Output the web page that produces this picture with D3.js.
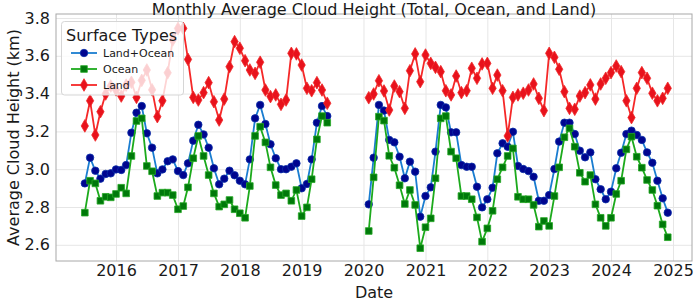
<!DOCTYPE html>
<html lang="en">
<head>
<meta charset="UTF-8">
<title>Monthly Average Cloud Height</title>
<script src="https://cdn.jsdelivr.net/npm/d3@7"></script>
<style>
  body { margin: 0; background: #fff; }
  text { font-family: "DejaVu Sans", sans-serif; fill: #1a1a1a; }
</style>
</head>
<body>
<script>
// two observation periods, monthly; nothing between Jul 2019 and Jan 2020
const period1Start = new Date(2015, 6, 1);   // Jul 2015 .. Jun 2019
const period2Start = new Date(2020, 1, 1);   // Feb 2020 .. Dec 2024

const landOcean1 = [2.925, 3.061, 2.992, 2.950, 2.975, 2.978, 2.999, 2.996, 3.022, 3.193, 3.299, 3.334,
  3.190, 3.114, 2.978, 2.999, 3.042, 3.052, 2.990, 2.969, 3.031, 3.151, 3.235, 3.184,
  3.114, 3.005, 2.920, 2.950, 2.992, 2.968, 2.939, 2.920, 3.052, 3.269, 3.340, 3.239,
  3.132, 3.058, 3.000, 3.000, 3.013, 3.031, 2.899, 2.922, 3.052, 3.246, 3.334, 3.281];
const ocean1 = [2.770, 2.939, 2.925, 2.833, 2.854, 2.851, 2.869, 2.902, 2.872, 3.070, 3.255, 3.269,
  3.017, 2.989, 2.858, 2.876, 2.876, 2.863, 2.788, 2.805, 2.904, 3.058, 3.176, 3.070,
  2.969, 2.872, 2.802, 2.814, 2.837, 2.788, 2.767, 2.743, 2.911, 3.176, 3.225, 3.142,
  3.010, 2.916, 2.863, 2.872, 2.833, 2.890, 2.752, 2.798, 2.947, 3.158, 3.281, 3.246];
const land1 = [3.229, 3.362, 3.181, 3.304, 3.398, 3.440, 3.420, 3.387, 3.445, 3.460, 3.380, 3.470,
  3.525, 3.420, 3.278, 3.362, 3.510, 3.684, 3.745, 3.745, 3.581, 3.380, 3.366, 3.405,
  3.458, 3.357, 3.260, 3.371, 3.542, 3.675, 3.640, 3.574, 3.525, 3.507, 3.566, 3.419,
  3.384, 3.393, 3.343, 3.366, 3.613, 3.610, 3.551, 3.428, 3.415, 3.458, 3.419, 3.349];

const landOcean2 = [2.814, 3.061, 3.340, 3.310, 3.155, 3.142, 3.066, 2.952, 3.040, 2.987,
  2.749, 2.858, 2.904, 3.093, 3.340, 3.327, 3.195, 3.195, 3.022, 3.013,
  3.013, 2.907, 2.798, 2.841, 2.902, 3.084, 3.137, 3.119, 3.198, 3.017,
  3.001, 2.990, 2.960, 2.833, 2.833, 2.863, 3.001, 3.146, 3.246, 3.246,
  3.186, 3.098, 3.063, 3.089, 2.947, 2.894, 2.841, 2.881, 3.005, 3.087,
  3.186, 3.204, 3.181, 3.155, 3.089, 3.034, 2.939, 2.846, 2.770];
const ocean2 = [2.673, 2.957, 3.278, 3.257, 3.071, 3.008, 2.915, 2.816, 2.890, 2.811,
  2.582, 2.693, 2.740, 2.952, 3.269, 3.281, 3.093, 3.058, 2.858, 2.858,
  2.841, 2.745, 2.617, 2.687, 2.780, 2.947, 3.010, 3.070, 3.110, 2.854,
  2.841, 2.841, 2.811, 2.696, 2.726, 2.700, 2.858, 3.010, 3.169, 3.216,
  3.119, 2.981, 2.934, 2.969, 2.814, 2.743, 2.700, 2.743, 2.869, 2.939,
  3.105, 3.172, 3.066, 3.008, 2.943, 2.890, 2.807, 2.708, 2.640];
const land2 = [3.378, 3.398, 3.468, 3.414, 3.313, 3.440, 3.410, 3.322, 3.521, 3.610,
  3.463, 3.604, 3.560, 3.539, 3.516, 3.415, 3.393, 3.493, 3.405, 3.415,
  3.534, 3.481, 3.557, 3.560, 3.428, 3.498, 3.415, 3.176, 3.380, 3.393,
  3.402, 3.419, 3.451, 3.375, 3.310, 3.613, 3.592, 3.529, 3.410, 3.322,
  3.317, 3.387, 3.405, 3.446, 3.371, 3.451, 3.481, 3.511, 3.546, 3.516,
  3.362, 3.273, 3.428, 3.511, 3.481, 3.402, 3.362, 3.375, 3.428];

const yearTicks = [2016, 2017, 2018, 2019, 2020, 2021, 2022, 2023, 2024, 2025];
const heightTicks = [2.6, 2.8, 3.0, 3.2, 3.4, 3.6, 3.8];

const series = [
  { name: "Land+Ocean", parts: [landOcean1, landOcean2], line: "#1a7dd0", fill: "#00058f", edge: "#0a2fa8", symbol: d3.symbolCircle, size: 44 },
  { name: "Ocean", parts: [ocean1, ocean2], line: "#1caa1c", fill: "#00790a", edge: "#25a825", symbol: d3.symbolSquare, size: 44 },
  { name: "Land", parts: [land1, land2], line: "#f52828", fill: "#e8121c", edge: "#f02a2a", symbol: d3.symbolDiamond, size: 46 }
];

const width = 699, height = 303;
const plotLeft = 56, plotRight = 692, plotTop = 14, plotBottom = 261;

const x = d3.scaleTime()
  .domain([new Date(2016, 0, 1), new Date(2025, 0, 1)])
  .range([116, 673]);
const y = d3.scaleLinear()
  .domain([2.6, 3.8])
  .range([244.8, 18]);

function monthsFrom(start, values) {
  return values.map((v, i) => ({ date: d3.timeMonth.offset(start, i), value: v }));
}

const svg = d3.select("body").append("svg")
  .attr("width", width)
  .attr("height", height);

// grid
svg.append("g")
  .attr("transform", `translate(0,${plotBottom})`)
  .call(d3.axisBottom(x).tickValues(yearTicks.map(yr => new Date(yr, 0, 1))).tickSize(-(plotBottom - plotTop)).tickFormat(""))
  .call(g => g.select(".domain").remove())
  .call(g => g.selectAll("line").attr("stroke", "#e6e6e6"));
svg.append("g")
  .attr("transform", `translate(${plotLeft},0)`)
  .call(d3.axisLeft(y).tickValues(heightTicks).tickSize(-(plotRight - plotLeft)).tickFormat(""))
  .call(g => g.select(".domain").remove())
  .call(g => g.selectAll("line").attr("stroke", "#e6e6e6"));

// frame
svg.append("rect")
  .attr("x", plotLeft).attr("y", plotTop)
  .attr("width", plotRight - plotLeft).attr("height", plotBottom - plotTop)
  .attr("fill", "none").attr("stroke", "#a8a8a8").attr("stroke-width", 1);

// tick labels
svg.append("g")
  .attr("transform", `translate(0,${plotBottom})`)
  .call(d3.axisBottom(x).tickValues(yearTicks.map(yr => new Date(yr, 0, 1))).tickSize(0).tickPadding(4).tickFormat(d3.timeFormat("%Y")))
  .call(g => g.select(".domain").remove())
  .call(g => g.selectAll("text").attr("font-size", 16).attr("font-family", "DejaVu Sans").attr("fill", "#1a1a1a"));
svg.append("g")
  .attr("transform", `translate(${plotLeft},0)`)
  .call(d3.axisLeft(y).tickValues(heightTicks).tickSize(0).tickPadding(6).tickFormat(d3.format(".1f")))
  .call(g => g.select(".domain").remove())
  .call(g => g.selectAll("text").attr("font-size", 16).attr("font-family", "DejaVu Sans").attr("fill", "#1a1a1a"));

const line = d3.line()
  .x(d => x(d.date))
  .y(d => y(d.value));

const plot = svg.append("g");
series.forEach(s => {
  const pts = [monthsFrom(period1Start, s.parts[0]), monthsFrom(period2Start, s.parts[1])];
  pts.forEach(p => {
    plot.append("path")
      .datum(p)
      .attr("d", line)
      .attr("fill", "none")
      .attr("stroke", s.line)
      .attr("stroke-width", 1.8);
  });
  const sym = d3.symbol().type(s.symbol).size(s.size);
  plot.append("g").selectAll("path")
    .data(pts.flat())
    .join("path")
    .attr("d", sym)
    .attr("transform", d => `translate(${x(d.date)},${y(d.value)})`)
    .attr("fill", s.fill)
    .attr("stroke", s.edge)
    .attr("stroke-width", 0.8);
});

// legend
const legend = svg.append("g");
legend.append("rect")
  .attr("x", 61.5).attr("y", 21.5)
  .attr("width", 122).attr("height", 73.5)
  .attr("rx", 3)
  .attr("fill", "#fff").attr("fill-opacity", 0.8)
  .attr("stroke", "#d6d6d6");
legend.append("text")
  .attr("x", 66).attr("y", 41)
  .attr("font-size", 16)
  .text("Surface Types");
series.forEach((s, i) => {
  const ly = 53 + i * 16;
  legend.append("line")
    .attr("x1", 71).attr("x2", 97)
    .attr("y1", ly).attr("y2", ly)
    .attr("stroke", s.line).attr("stroke-width", 1.8);
  legend.append("path")
    .attr("d", d3.symbol().type(s.symbol).size(s.size)())
    .attr("transform", `translate(84,${ly})`)
    .attr("fill", s.fill).attr("stroke", s.edge).attr("stroke-width", 0.8);
  legend.append("text")
    .attr("x", 103).attr("y", ly + 4)
    .attr("font-size", 11)
    .text(s.name);
});

// titles
svg.append("text")
  .attr("x", (plotLeft + plotRight) / 2).attr("y", 15)
  .attr("text-anchor", "middle")
  .attr("font-size", 16)
  .text("Monthly Average Cloud Height (Total, Ocean, and Land)");
svg.append("text")
  .attr("x", (plotLeft + plotRight) / 2).attr("y", 298)
  .attr("text-anchor", "middle")
  .attr("font-size", 16)
  .text("Date");
svg.append("text")
  .attr("transform", `translate(19,${(plotTop + plotBottom) / 2}) rotate(-90)`)
  .attr("text-anchor", "middle")
  .attr("font-size", 16)
  .text("Average Cloud Height (km)");
</script>
</body>
</html>
